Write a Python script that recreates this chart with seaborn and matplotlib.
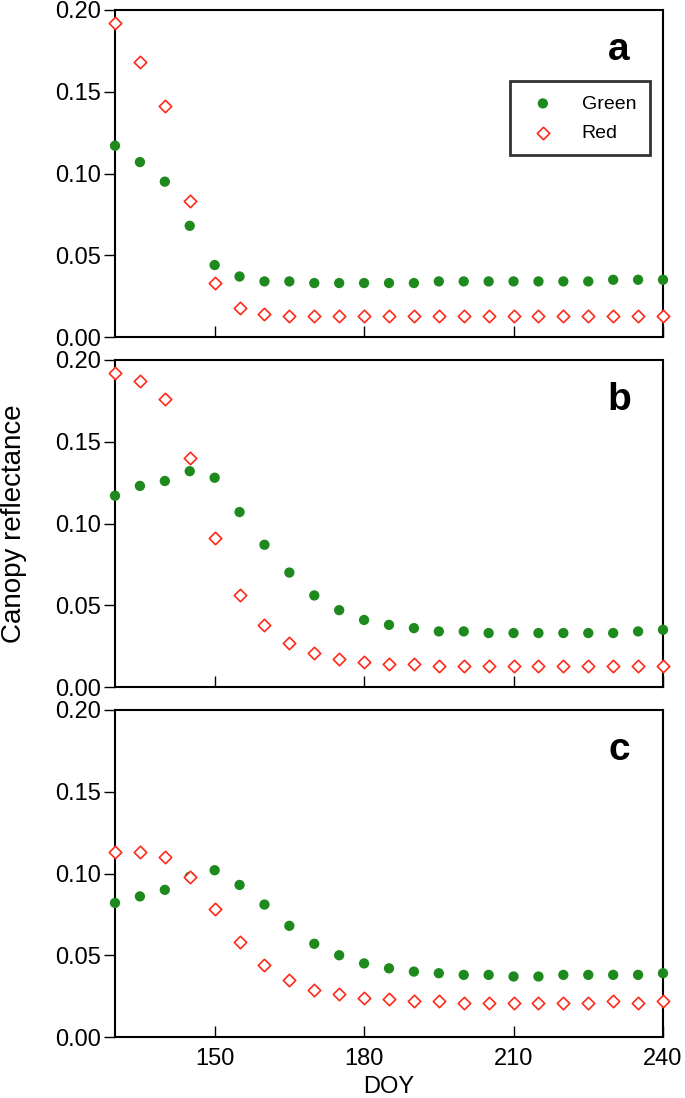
import numpy as np
import pandas as pd
import matplotlib
matplotlib.use("Agg")
import matplotlib.pyplot as plt
import seaborn as sns

doy = list(range(130, 241, 5))

green_a = [0.117, 0.107, 0.095, 0.068, 0.044, 0.037, 0.034, 0.034, 0.033, 0.033, 0.033, 0.033,
           0.033, 0.034, 0.034, 0.034, 0.034, 0.034, 0.034, 0.034, 0.035, 0.035, 0.035]
red_a = [0.192, 0.168, 0.141, 0.083, 0.033, 0.018, 0.014, 0.013, 0.013, 0.013, 0.013, 0.013,
         0.013, 0.013, 0.013, 0.013, 0.013, 0.013, 0.013, 0.013, 0.013, 0.013, 0.013]

green_b = [0.117, 0.123, 0.126, 0.132, 0.128, 0.107, 0.087, 0.070, 0.056, 0.047, 0.041, 0.038,
           0.036, 0.034, 0.034, 0.033, 0.033, 0.033, 0.033, 0.033, 0.033, 0.034, 0.035]
red_b = [0.192, 0.187, 0.176, 0.140, 0.091, 0.056, 0.038, 0.027, 0.021, 0.017, 0.015, 0.014,
         0.014, 0.013, 0.013, 0.013, 0.013, 0.013, 0.013, 0.013, 0.013, 0.013, 0.013]

green_c = [0.082, 0.086, 0.090, 0.098, 0.102, 0.093, 0.081, 0.068, 0.057, 0.050, 0.045, 0.042,
           0.040, 0.039, 0.038, 0.038, 0.037, 0.037, 0.038, 0.038, 0.038, 0.038, 0.039]
red_c = [0.113, 0.113, 0.110, 0.098, 0.078, 0.058, 0.044, 0.035, 0.029, 0.026, 0.024, 0.023,
         0.022, 0.022, 0.021, 0.021, 0.021, 0.021, 0.021, 0.021, 0.022, 0.021, 0.022]

panels = ["a", "b", "c"]
series_labels = ["Green", "Red"]
x_ticks = [150, 180, 210, 240]
y_ticks = [0.00, 0.05, 0.10, 0.15, 0.20]

sns.set_theme(style="white")
plt.rcParams['font.family'] = ['Liberation Sans', 'DejaVu Sans']
plt.rcParams['text.color'] = 'black'
plt.rcParams['axes.labelcolor'] = 'black'
plt.rcParams['xtick.color'] = 'black'
plt.rcParams['ytick.color'] = 'black'
plt.rcParams['xtick.direction'] = 'in'
plt.rcParams['ytick.direction'] = 'out'

fig = plt.figure(figsize=(6.85, 10.98), dpi=100)
left, right = 115 / 685, 663 / 685
tops = [10, 360, 710]
h = 327
data = [(green_a, red_a), (green_b, red_b), (green_c, red_c)]

for i, (g, r) in enumerate(data):
    bottom = 1 - (tops[i] + h) / 1098
    ax = fig.add_axes([left, bottom, right - left, h / 1098])
    df = pd.DataFrame({"DOY": doy, "Green": g, "Red": r})
    sns.scatterplot(data=df, x="DOY", y="Green", ax=ax, color="#1e8a1e", marker="o",
                    s=55, edgecolor="none", label=series_labels[0], clip_on=False, zorder=3)
    sns.scatterplot(data=df, x="DOY", y="Red", ax=ax, facecolor="white", edgecolor="#ff2a1a",
                    marker="D", s=40, linewidth=1.2, label=series_labels[1], clip_on=False, zorder=3)
    ax.set_xlim(130, 240)
    ax.set_ylim(0, 0.2)
    ax.set_xticks(x_ticks)
    ax.set_yticks(y_ticks)
    ax.set_yticklabels([f"{v:.2f}" for v in y_ticks])
    ax.tick_params(axis="y", which="both", direction="out", length=8, width=1, labelsize=17,
                   left=True, right=False, pad=2)
    ax.tick_params(axis="x", which="both", direction="in", length=8, width=1, labelsize=17,
                   bottom=True, top=False, pad=8)
    for sp in ax.spines.values():
        sp.set_visible(True)
        sp.set_color("black")
        sp.set_linewidth(1.5)
    ax.set_ylabel("")
    ax.set_xlabel("")
    if i < 2:
        ax.set_xticklabels([])
    else:
        ax.set_xlabel("DOY", fontsize=17, labelpad=4)
    ax.text(0.92, 1 - 50 / 327, panels[i], transform=ax.transAxes, ha="center", va="baseline",
            fontsize=28, fontweight="bold")
    if i == 0:
        leg = ax.legend(loc="upper right", bbox_to_anchor=(0.976, 0.782), frameon=True,
                        fancybox=False, fontsize=14, handletextpad=1.0, borderpad=0.7,
                        labelspacing=0.6, borderaxespad=0, markerscale=1.0)
        leg.get_frame().set_edgecolor("black")
        leg.get_frame().set_linewidth(2)
    else:
        ax.get_legend().remove()

fig.text(0.02, 1 - (360 + h / 2) / 1098, "Canopy reflectance", rotation=90,
         ha="center", va="center", fontsize=20)

fig.savefig("out.png", dpi=100)
